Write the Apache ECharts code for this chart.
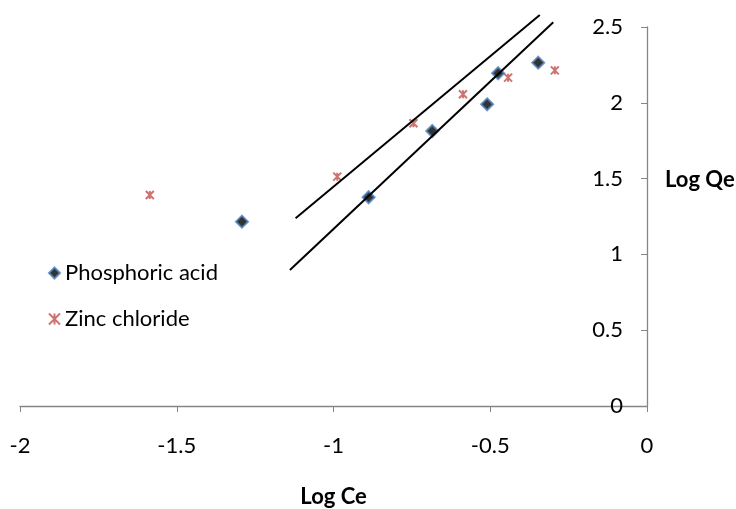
<!DOCTYPE html>
<html>
<head>
<meta charset="utf-8">
<script src="https://cdn.jsdelivr.net/npm/echarts@6/dist/echarts.min.js"></script>
<style>
html,body{margin:0;padding:0;background:#fff;}
#chart{width:736px;height:509px;}
</style>
</head>
<body>
<div id="chart"></div>
<script>
// ---- data ----
const phosphoricX = [-1.292, -0.888, -0.685, -0.510, -0.475, -0.347];
const phosphoricY = [1.216, 1.377, 1.814, 1.990, 2.195, 2.265];
const zincX = [-1.586, -0.988, -0.745, -0.587, -0.443, -0.294];
const zincY = [1.392, 1.513, 1.865, 2.056, 2.166, 2.214];
// trend lines (start / end points)
const trendUpperX = [-1.121, -0.342];
const trendUpperY = [1.238, 2.579];
const trendLowerX = [-1.139, -0.299];
const trendLowerY = [0.897, 2.531];
const xTicks = [-2, -1.5, -1, -0.5, 0];
const yTicks = [0, 0.5, 1, 1.5, 2, 2.5];
const seriesNames = ['Phosphoric acid', 'Zinc chloride'];
const xTitle = 'Log Ce';
const yTitle = 'Log Qe';

const zip = (xs, ys) => xs.map((x, i) => [x, ys[i]]);
const FONT = 'Lato';
const FS = 22;
const AXIS_COLOR = '#868686';
const xSymbol = 'path://M0,0 L10,10 M10,0 L0,10 M5,0 L5,10';

const chart = echarts.init(document.getElementById('chart'));
chart.setOption({
  animation: false,
  textStyle: {fontFamily: FONT},
  grid: {left: 20, right: 89, top: 27, bottom: 103, containLabel: false, outerBoundsMode: 'none'},
  legend: {
    data: seriesNames,
    orient: 'vertical',
    left: 43,
    top: 257,
    itemGap: 24,
    itemWidth: 11,
    itemHeight: 11,
    textStyle: {fontFamily: FONT, fontSize: FS, color: '#000'}
  },
  xAxis: {
    type: 'value',
    min: xTicks[0],
    max: xTicks[xTicks.length - 1],
    interval: 0.5,
    axisLine: {onZero: false, lineStyle: {color: AXIS_COLOR, width: 1.3}},
    axisTick: {show: true, length: 6, lineStyle: {color: AXIS_COLOR}},
    splitLine: {show: false},
    axisLabel: {fontSize: FS, color: '#000', margin: 29, fontFamily: FONT},
    name: xTitle,
    nameLocation: 'middle',
    nameGap: 80,
    nameTextStyle: {fontSize: FS, fontWeight: 'bold', color: '#000', fontFamily: FONT}
  },
  yAxis: {
    type: 'value',
    position: 'right',
    min: yTicks[0],
    max: yTicks[yTicks.length - 1],
    interval: 0.5,
    axisLine: {show: true, onZero: false, lineStyle: {color: AXIS_COLOR, width: 1.3}},
    axisTick: {show: true, inside: true, length: 6, lineStyle: {color: AXIS_COLOR}},
    splitLine: {show: false},
    axisLabel: {inside: true, fontSize: FS, color: '#000', margin: 24, fontFamily: FONT}
  },
  graphic: [{
    type: 'text',
    left: 665,
    top: 169,
    style: {text: yTitle, fontSize: FS, fontWeight: 'bold', fill: '#000', fontFamily: FONT}
  }],
  series: [
    {
      name: 'trendUpper', type: 'line', data: zip(trendUpperX, trendUpperY),
      symbol: 'none', clip: false, silent: true,
      lineStyle: {color: '#000', width: 2}
    },
    {
      name: 'trendLower', type: 'line', data: zip(trendLowerX, trendLowerY),
      symbol: 'none', clip: false, silent: true,
      lineStyle: {color: '#000', width: 2}
    },
    {
      name: seriesNames[0], type: 'scatter', data: zip(phosphoricX, phosphoricY),
      symbol: 'diamond', symbolSize: 12,
      itemStyle: {color: '#000', borderColor: '#4f81bd', borderWidth: 2}
    },
    {
      name: seriesNames[1], type: 'scatter', data: zip(zincX, zincY),
      symbol: xSymbol, symbolSize: 8,
      itemStyle: {color: '#c0504d', borderColor: '#c0504d', borderWidth: 2}
    }
  ]
});
</script>
</body>
</html>
